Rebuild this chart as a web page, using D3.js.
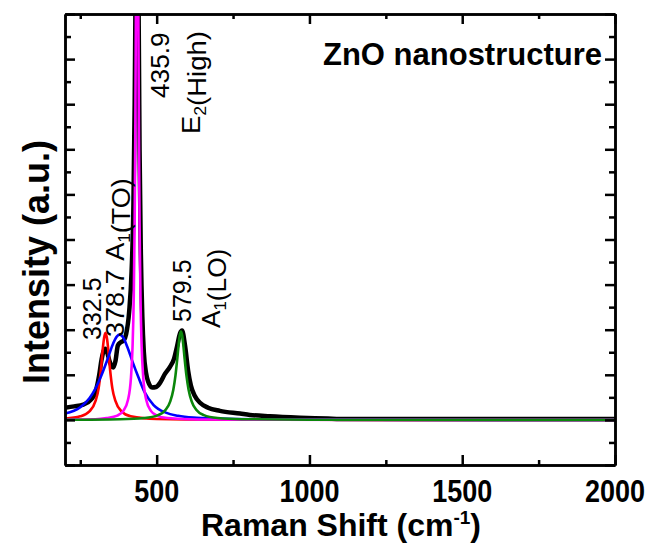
<!DOCTYPE html>
<html>
<head>
<meta charset="utf-8">
<script src="https://cdn.jsdelivr.net/npm/d3@7"></script>
<style>
body { margin: 0; background: #fff; }
text { font-family: "Liberation Sans", Arial, sans-serif; }
</style>
</head>
<body>
<svg id="chart" width="652" height="545"></svg>
<script>
// raman shift (cm-1), intensity (a.u.)
var measured = [[200,27],[230,30],[260,34],[285,45],[300,62],[312,100],[320,135],[326,152],[332,158],[338,150],
	[345,132],[352,120],[358,116],[365,130],[373,165],[382,172],[392,176],[400,190],[410,240],[418,330],
	[424,480],[428,700],[431,950],[434,1250],[436,1450],[438,1250],[441,900],[444,600],[448,380],[453,230],
	[458,150],[465,105],[472,85],[485,72],[498,73],[511,82],[527,102],[544,118],[557,136],[567,164],
	[576,191],[583,198],[593,164],[603,109],[612,76],[625,53],[642,38],[668,27],[707,20],[773,14],
	[805,11],[871,8],[969,5],[1060,3],[1100,2],[1300,2],[1500,2],[1700,2],[1900,2],[2000,2]];

var fitRed = [[200,3],[250,8],[280,19],[300,42],[310,70],[318,115],[324,160],[328,182],[332.5,193],[337,182],
	[341,160],[347,115],[355,70],[365,42],[385,19],[415,8],[500,2],[700,0.5],[1000,0.2],[2000,0]];

var fitBlue = [[200,14],[250,28],[280,48],[300,70],[320,100],[340,136],[355,165],[370,185],[378.7,189],[390,183],
	[405,160],[420,131],[440,95],[460,62],[490,33],[530,16],[570,9],[620,5],[700,3],[900,1],[1200,0.5],[2000,0]];

var fitMagenta = [[200,0.7],[300,1.5],[336,4.1],[371,9.6],[391,20],[406,44],[416,95],[421,161],[425,272],[428,438],
	[430,627],[432,904],[434,1231],[435.9,1400],[438,1231],[440,904],[442,627],[444,438],[447,272],[451,161],
	[456,95],[466,44],[481,20],[501,9.6],[536,4.1],[636,1],[900,0.2],[2000,0]];

var fitGreen = [[200,0.4],[380,1.6],[460,4.3],[504.5,10.7],[529.5,22.5],[544.5,41],[554.5,67],[561.5,98],[567.5,136],
	[571.5,164],[575.5,187],[579.5,196],[583.5,187],[587.5,164],[591.5,136],[597.5,98],[604.5,67],[614.5,41],
	[629.5,22.5],[654.5,10.7],[699.5,4.3],[779.5,1.6],[1000,0.3],[2000,0]];

var xMajor = [500, 1000, 1500, 2000];
var xMinor = [250, 750, 1250, 1750];
var yMajor = [-100, 0, 100, 200, 300, 400, 500, 600, 700, 800, 900];
var yMinor = [-50, 50, 150, 250, 350, 450, 550, 650, 750, 850];

var svg = d3.select("#chart"),
	margin = {top: 14, right: 37, bottom: 80, left: 65},
	width = 652 - margin.left - margin.right,
	height = 545 - margin.top - margin.bottom;

var x = d3.scaleLinear().domain([200, 2000]).range([margin.left, margin.left + width]);
var y = d3.scaleLinear().domain([-100, 900]).range([margin.top + height, margin.top]);

svg.append("clipPath").attr("id", "plotClip")
	.append("rect")
	.attr("x", margin.left).attr("y", margin.top)
	.attr("width", width).attr("height", height);

var line = d3.line()
	.x(function(d) { return x(d[0]); })
	.y(function(d) { return y(d[1]); })
	.curve(d3.curveMonotoneX);

var plot = svg.append("g").attr("clip-path", "url(#plotClip)");

plot.append("path").datum(measured)
	.attr("d", line).attr("fill", "none")
	.attr("stroke", "#000").attr("stroke-width", 4.5).attr("stroke-linejoin", "round");

var fits = [[fitRed, "#ff0000"], [fitBlue, "#0000ff"], [fitMagenta, "#ff00ff"], [fitGreen, "#0b870b"]];
fits.forEach(function(f) {
	plot.append("path").datum(f[0])
		.attr("d", line).attr("fill", "none")
		.attr("stroke", f[1]).attr("stroke-width", 2.6).attr("stroke-linejoin", "round");
});

// axes, ticks inward on all four sides
function drawAxis(axis, tx, ty) {
	var g = svg.append("g").attr("transform", "translate(" + tx + "," + ty + ")").call(axis);
	g.selectAll("path").attr("stroke-width", 2.5);
	g.selectAll("line").attr("stroke-width", 2.5);
	g.selectAll("text").remove();
	return g;
}

var bottom = margin.top + height, right = margin.left + width;

drawAxis(d3.axisBottom(x).tickValues(xMinor).tickSize(-5).tickSizeOuter(0), 0, bottom);
drawAxis(d3.axisBottom(x).tickValues(xMajor).tickSize(-10).tickSizeOuter(0), 0, bottom);
drawAxis(d3.axisTop(x).tickValues(xMinor).tickSize(-5).tickSizeOuter(0), 0, margin.top);
drawAxis(d3.axisTop(x).tickValues(xMajor).tickSize(-10).tickSizeOuter(0), 0, margin.top);
drawAxis(d3.axisLeft(y).tickValues(yMinor).tickSize(-6).tickSizeOuter(0), margin.left, 0);
drawAxis(d3.axisLeft(y).tickValues(yMajor).tickSize(-10).tickSizeOuter(0), margin.left, 0);
drawAxis(d3.axisRight(y).tickValues(yMinor).tickSize(-6).tickSizeOuter(0), right, 0);
drawAxis(d3.axisRight(y).tickValues(yMajor).tickSize(-10).tickSizeOuter(0), right, 0);

svg.append("g").selectAll("text")
	.data(xMajor)
	.enter().append("text")
		.attr("transform", function(d) { return "translate(" + x(d) + ",502) scale(1,1.15)"; })
		.attr("text-anchor", "middle")
		.attr("font-size", 27)
		.attr("font-weight", "bold")
		.text(function(d) { return d; });

var xTitle = svg.append("text")
	.attr("x", 341).attr("y", 536)
	.attr("text-anchor", "middle")
	.attr("font-size", 32).attr("font-weight", "bold");
xTitle.append("tspan").text("Raman Shift (cm");
xTitle.append("tspan").attr("font-size", 19).attr("dy", -12).text("-1");
xTitle.append("tspan").attr("dy", 12).text(")");

svg.append("text")
	.attr("transform", "translate(49,262) rotate(-90)")
	.attr("text-anchor", "middle")
	.attr("font-size", 36).attr("font-weight", "bold")
	.text("Intensity (a.u.)");

svg.append("text")
	.attr("x", 602).attr("y", 65)
	.attr("text-anchor", "end")
	.attr("font-size", 31).attr("font-weight", "bold")
	.text("ZnO nanostructure");

// peak annotations, rotated
function peakLabel(px, py, stretch, parts) {
	var t = svg.append("text")
		.attr("transform", "translate(" + px + "," + py + ") scale(1," + stretch + ") rotate(-90)")
		.attr("font-size", 25);
	parts.forEach(function(p) {
		if (p.sub) {
			t.append("tspan").attr("font-size", 16).attr("dy", 6).text(p.text);
			t.append("tspan").attr("dy", -6).text("");
		} else {
			t.append("tspan").attr("dx", p.gap || 0).text(p.text);
		}
	});
}

peakLabel(101, 340, 1.0, [{text: "332.5"}]);
peakLabel(124, 337, 1.08, [{text: "378.7"}, {text: "A", gap: 8}, {text: "1", sub: true}, {text: "(TO)"}]);
peakLabel(169, 98, 1.05, [{text: "435.9"}]);
peakLabel(200, 134, 1.1, [{text: "E"}, {text: "2", sub: true}, {text: "(High)"}]);
peakLabel(191, 322, 1.0, [{text: "579.5"}]);
peakLabel(220, 328, 1.05, [{text: "A"}, {text: "1", sub: true}, {text: "(LO)"}]);
</script>
</body>
</html>
